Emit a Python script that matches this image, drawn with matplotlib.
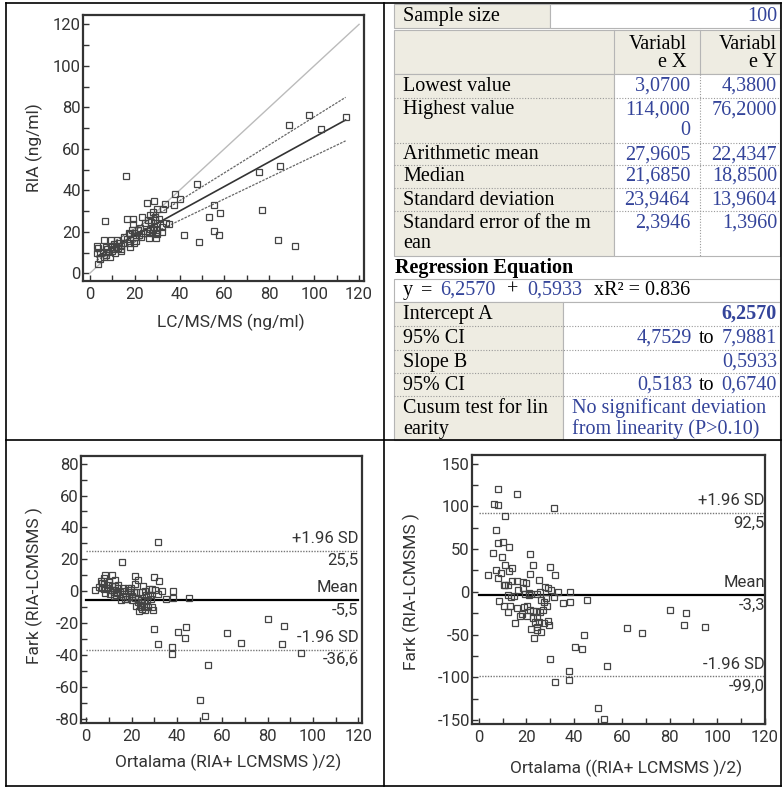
import numpy as np
import matplotlib.pyplot as plt
from matplotlib.patches import Rectangle
from matplotlib.ticker import MultipleLocator

W, H = 783, 788

# LC/MS/MS (x) and RIA (y) in ng/ml
lcms = np.array([16.1, 6.8, 3.3, 3.6, 6.2, 47.6, 38.2, 40.4, 37.5, 33.5,
                 32.7, 28.8, 25.4, 23.5, 26.9, 28.3, 30.0, 29.1, 35.4, 41.8,
                 48.5, 53.2, 55.2, 58.1, 55.5, 57.5, 75.2, 76.9, 84.6, 84.0,
                 88.8, 91.6, 97.8, 102.9, 114.0, 16.8, 19.2, 19.3, 21.6, 22.3,
                 26.8, 29.8, 30.1, 29.7, 26.6, 27.7, 32.4, 30.0, 28.5, 29.0,
                 23.8, 20.4, 18.1, 17.5, 16.4, 14.0, 13.8, 11.9, 9.4, 9.4,
                 8.9, 8.3, 7.4, 5.7, 4.5, 4.5, 3.9, 11.0, 12.2, 15.2,
                 18.1, 19.9, 21.3, 25.3, 26.2, 32.0, 34.2, 10.7, 7.1, 13.1,
                 17.5, 18.9, 23.0, 15.2, 10.1, 6.2, 7.7, 19.8, 24.8, 27.4,
                 28.3, 3.07, 11.3, 12.6, 14.1, 20.8, 21.9, 29.4, 30.9, 25.9])
ria = np.array([46.9, 25.1, 13.2, 4.4, 16.1, 43.1, 38.2, 36.0, 32.8, 33.4,
                30.8, 35.0, 34.1, 27.0, 28.3, 29.6, 30.8, 27.0, 23.8, 18.3,
                15.1, 27.3, 32.8, 28.9, 20.4, 18.3, 49.0, 30.4, 51.9, 15.9,
                71.3, 13.3, 76.2, 69.6, 75.3, 26.3, 26.3, 23.8, 20.9, 21.8,
                21.5, 24.1, 19.0, 17.0, 17.0, 19.3, 22.5, 20.9, 22.5, 25.7,
                19.3, 15.7, 12.5, 14.5, 16.7, 11.9, 10.9, 12.9, 16.1, 12.9,
                8.0, 10.3, 8.7, 10.3, 7.1, 9.6, 12.0, 14.1, 16.1, 17.3,
                19.0, 19.3, 20.9, 20.2, 19.3, 19.9, 24.1, 11.6, 12.9, 14.8,
                19.6, 20.9, 17.3, 14.5, 10.9, 8.0, 11.6, 14.8, 24.1, 24.9,
                20.9, 9.6, 9.6, 12.2, 13.2, 17.3, 18.6, 19.3, 26.0, 25.7])

# regression results from the table
intercept, slope = 6.2570, 0.5933
ci_a = [4.7529, 7.9881]
ci_b = [0.5183, 0.6740]
r2 = 0.836

# Bland-Altman lines: +1.96 SD, mean, -1.96 SD
ba_names = ["+1.96 SD", "Mean", "-1.96 SD"]
ba_abs = [25.5, -5.5, -36.6]
ba_pct = [92.5, -3.3, -99.0]

# descriptive statistics table
stat_names = [["Lowest value"], ["Highest value"], ["Arithmetic mean"], ["Median"],
              ["Standard deviation"], ["Standard error of the m", "ean"]]
var_x = [["3,0700"], ["114,000", "0"], ["27,9605"], ["21,6850"], ["23,9464"], ["2,3946"]]
var_y = [["4,3800"], ["76,2000"], ["22,4347"], ["18,8500"], ["13,9604"], ["1,3960"]]
reg_names = [["Intercept A"], ["95% CI"], ["Slope B"], ["95% CI"], ["Cusum test for lin", "earity"]]
cusum = ["No significant deviation", "from linearity (P>0.10)"]

plt.rcParams['font.family'] = ['Roboto', 'DejaVu Sans']
plt.rcParams['axes.unicode_minus'] = False

blue = '#34449A'
beige = '#EEECE2'
grey = '#333333'
serif = 'Liberation Serif'
fs = 14.5
tick_fs = 12
lab_fs = 12.5


def comma(v, n):
    return f"{v:.{n}f}".replace('.', ',')


fig = plt.figure(figsize=(W / 100, H / 100), dpi=100)
bg = fig.add_axes([0, 0, 1, 1])
bg.set_xlim(0, W)
bg.set_ylim(H, 0)
bg.axis('off')

# page grid
for x0, y0, x1, y1 in [(6, 3, 781, 3), (6, 786, 781, 786), (6, 3, 6, 786), (781, 3, 781, 786),
                       (384, 3, 384, 786), (6, 440, 781, 440)]:
    bg.plot([x0, x1], [y0, y1], color='black', lw=1.2)


def px_axes(l, t, r, b):
    return fig.add_axes([l / W, 1 - b / H, (r - l) / W, (b - t) / H])


def style(ax, xlim, ylim, ymaj):
    ax.set_xlim(*xlim)
    ax.set_ylim(*ylim)
    ax.xaxis.set_major_locator(MultipleLocator(20))
    ax.xaxis.set_minor_locator(MultipleLocator(10))
    ax.yaxis.set_major_locator(MultipleLocator(ymaj))
    ax.yaxis.set_minor_locator(MultipleLocator(ymaj / 2))
    ax.tick_params(which='both', direction='in', color=grey, width=1, length=4)
    ax.tick_params(axis='x', pad=4, labelsize=tick_fs, labelcolor=grey)
    ax.tick_params(axis='y', pad=1.5, labelsize=tick_fs, labelcolor=grey)
    for s in ax.spines.values():
        s.set_color(grey)
        s.set_linewidth(1.6)


sq = dict(marker='s', ls='none', ms=4.3, mfc='none', mec='#444', mew=0.9)

# scatter with regression
ax1 = px_axes(83, 15, 364, 281)
style(ax1, (-3, 122.2), (-3.7, 124.5), 20)
ax1.plot([0, 120], [0, 120], color='#bbbbbb', lw=1)
xs = np.array([lcms.min(), lcms.max()])
ax1.plot(xs, intercept + slope * xs, color='#333', lw=1.2)
ax1.plot(xs, ci_a[1] + ci_b[1] * xs, color='#666', lw=0.9, ls=(0, (2, 1)))
ax1.plot(xs, ci_a[0] + ci_b[0] * xs, color='#666', lw=0.9, ls=(0, (2, 1)))
ax1.plot(lcms, ria, **sq)
bg.text(34, 148, "RIA (ng/ml)", rotation=90, ha='center', va='center', fontsize=lab_fs, color=grey)
bg.text(231, 322, "LC/MS/MS (ng/ml)", ha='center', va='center', fontsize=lab_fs, color=grey)

ba_mean = (lcms + ria) / 2
ba_diff = ria - lcms


def ba_lines(ax, vals):
    for name, v in zip(ba_names, vals):
        if name == "Mean":
            ax.plot([0, 120], [v, v], color='black', lw=1.6)
        else:
            ax.plot([0, 120], [v, v], color='#777', lw=1, ls=(0, (1, 1)))
        ax.annotate(name, (120, v), xytext=(0, 3.5), textcoords='offset points',
                    ha='right', va='bottom', fontsize=tick_fs, color=grey)
        ax.annotate(comma(v, 1), (120, v), xytext=(0, -2), textcoords='offset points',
                    ha='right', va='top', fontsize=tick_fs, color=grey)


# Bland-Altman, absolute difference
ax2 = px_axes(81, 456, 362, 723)
style(ax2, (-2.3, 121.6), (-82.7, 84.8), 20)
ba_lines(ax2, ba_abs)
ax2.plot(ba_mean, ba_diff, **sq)
bg.text(34, 586, "Fark (RIA-LCMSMS )", rotation=90, ha='center', va='center', fontsize=lab_fs, color=grey)
bg.text(228, 762, "Ortalama (RIA+ LCMSMS )/2)", ha='center', va='center', fontsize=lab_fs, color=grey)

# Bland-Altman, percent difference
ax3 = px_axes(472, 455, 765, 724)
style(ax3, (-2.8, 120), (-154.7, 160), 50)
ba_lines(ax3, ba_pct)
ax3.plot(ba_mean, 100 * ba_diff / ba_mean, **sq)
bg.text(411, 592, "Fark (RIA-LCMSMS )", rotation=90, ha='center', va='center', fontsize=lab_fs, color=grey)
bg.text(626, 768, "Ortalama ((RIA+ LCMSMS )/2)", ha='center', va='center', fontsize=lab_fs, color=grey)


# table
def cell(x0, y0, x1, y1, fc, ec='#b5b5b5'):
    bg.add_patch(Rectangle((x0, y0), x1 - x0, y1 - y0, facecolor=fc, edgecolor=ec, lw=0.8))


def dotted(x0, y0, x1, y1):
    bg.plot([x0, x1], [y0, y1], color='#999', lw=0.8, ls=(0, (1, 1.5)))


def txt(x, y, s, ha='left', color='black', weight='normal'):
    bg.text(x, y, s, ha=ha, va='baseline', fontsize=fs, family=serif, color=color, fontweight=weight)


L, C1, C2, R = 394, 614, 700, 780
lx = 403
gap = 20.5

# sample size
cell(L, 4, 550, 28, beige)
cell(550, 4, R, 28, 'white')
txt(lx, 20.5, "Sample size")
txt(777, 20.5, str(len(lcms)), ha='right', color=blue)

# header
cell(L, 30, R, 74, beige)
bg.plot([C1, C1], [30, 74], color='#b5b5b5', lw=0.8)
bg.plot([C2, C2], [30, 74], color='#b5b5b5', lw=0.8)
for xr, name in [(687, "X"), (777, "Y")]:
    txt(xr, 48.5, "Variabl", ha='right')
    txt(xr, 67, "e " + name, ha='right')

edges = [74, 97.7, 142.7, 164.5, 188, 211, 256]
cell(L, edges[0], C1, edges[-1], beige)
cell(C1, edges[0], R, edges[-1], 'white')
dotted(C2, edges[0], C2, edges[-1])
for i in range(len(stat_names)):
    top = edges[i]
    if i > 0:
        dotted(L, top, R, top)
    for k, s in enumerate(stat_names[i]):
        txt(lx, top + 16.5 + k * gap, s)
    for k, s in enumerate(var_x[i]):
        txt(690, top + 16.5 + k * gap, s, ha='right', color=blue)
    for k, s in enumerate(var_y[i]):
        txt(777, top + 16.5 + k * gap, s, ha='right', color=blue)

txt(395, 272.5, "Regression Equation", weight='bold')

# equation line
cell(L, 279, R, 302, 'white')
txt(403, 295, "y")
txt(421, 295, "=")
txt(440, 295, comma(intercept, 4), color=blue)
txt(507, 295, "+")
txt(527, 295, comma(slope, 4), color=blue)
txt(594, 295, f"xR² = {r2:.3f}")

redges = [302, 326, 349.5, 373, 396, 440]
C3 = 563
cell(L, redges[0], C3, redges[-1], beige)
cell(C3, redges[0], R, redges[-1], 'white')
for i in range(len(reg_names)):
    top = redges[i]
    if i > 0:
        dotted(L, top, R, top)
    for k, s in enumerate(reg_names[i]):
        txt(lx, top + 17 + k * gap, s)

txt(777, redges[0] + 17, comma(intercept, 4), ha='right', color=blue, weight='bold')
txt(777, redges[2] + 17, comma(slope, 4), ha='right', color=blue)
for row, ci in [(1, ci_a), (3, ci_b)]:
    yb = redges[row] + 17
    txt(692, yb, comma(ci[0], 4), ha='right', color=blue)
    txt(714, yb, "to", ha='right')
    txt(777, yb, comma(ci[1], 4), ha='right', color=blue)
for k, s in enumerate(cusum):
    txt(572, redges[4] + 17 + k * gap, s, color=blue)

fig.savefig('out.png', dpi=100)
